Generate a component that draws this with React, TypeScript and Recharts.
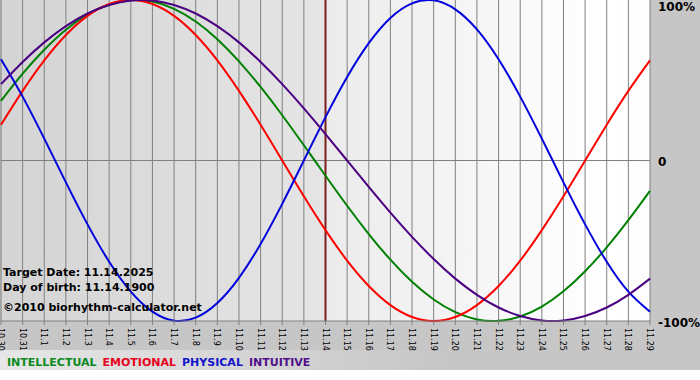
import React from "react";
import {
  LineChart,
  Line,
  XAxis,
  YAxis,
  CartesianGrid,
  ReferenceLine,
} from "recharts";

// day labels along the bottom
const days = [
  "10.30", "10.31", "11.1", "11.2", "11.3", "11.4", "11.5", "11.6", "11.7", "11.8",
  "11.9", "11.10", "11.11", "11.12", "11.13", "11.14", "11.15", "11.16", "11.17", "11.18",
  "11.19", "11.20", "11.21", "11.22", "11.23", "11.24", "11.25", "11.26", "11.27", "11.28",
  "11.29",
];

const physical = [
  0.631, 0.398, 0.136, -0.136, -0.398, -0.631, -0.817, -0.942, -0.998, -0.979,
  -0.888, -0.731, -0.52, -0.27, 0, 0.27, 0.52, 0.731, 0.888, 0.979,
  0.998, 0.942, 0.817, 0.631, 0.398, 0.136, -0.136, -0.398, -0.631, -0.817,
  -0.942,
];

const emotional = [
  0.223, 0.434, 0.624, 0.782, 0.901, 0.975, 1, 0.975, 0.901, 0.782,
  0.624, 0.434, 0.223, 0, -0.223, -0.434, -0.624, -0.782, -0.901, -0.975,
  -1, -0.975, -0.901, -0.782, -0.624, -0.434, -0.223, 0, 0.223, 0.434,
  0.624,
];

const intellectual = [
  0.372, 0.541, 0.69, 0.815, 0.91, 0.972, 0.999, 0.99, 0.945, 0.866,
  0.756, 0.618, 0.458, 0.282, 0.095, -0.095, -0.282, -0.458, -0.618, -0.756,
  -0.866, -0.945, -0.99, -0.999, -0.972, -0.91, -0.815, -0.69, -0.541, -0.372,
  -0.189,
];

const intuitive = [
  0.476, 0.614, 0.736, 0.837, 0.916, 0.969, 0.997, 0.997, 0.969, 0.916,
  0.837, 0.736, 0.614, 0.476, 0.325, 0.165, 0, -0.165, -0.325, -0.476,
  -0.614, -0.736, -0.837, -0.916, -0.969, -0.997, -0.997, -0.969, -0.916, -0.837,
  -0.736,
];

const yTicks = [1, 0, -1];
const yLabels = ["100%", "0", "-100%"];

const legend = [
  { name: "INTELLECTUAL", color: "#0a8a1e" },
  { name: "EMOTIONAL", color: "#e8001c" },
  { name: "PHYSICAL", color: "#1414cc" },
  { name: "INTUITIVE", color: "#50108a" },
];

const data = days.map((d, i) => ({
  t: i,
  label: d,
  physical: physical[i],
  emotional: emotional[i],
  intellectual: intellectual[i],
  intuitive: intuitive[i],
}));

const FONT = "'DejaVu Sans', Verdana, sans-serif";

const DayTick = ({ x, y, payload }: any) => (
  <text
    transform={`translate(${x - 3},${y + 1}) rotate(90)`}
    textAnchor="start"
    fontSize={8}
    fontFamily={FONT}
    fill="#000"
  >
    {days[payload.value]}
  </text>
);

const PctTick = ({ y, payload }: any) => {
  const idx = yTicks.indexOf(payload.value);
  const dy = payload.value === 1 ? 11 : 5.5;
  return (
    <text
      x={658}
      y={y + dy}
      fontSize={12}
      fontWeight="bold"
      fontFamily={FONT}
      fill="#000"
    >
      {yLabels[idx]}
    </text>
  );
};

export default function App() {
  return (
    <div
      style={{
        position: "absolute",
        left: 0,
        top: 0,
        width: 700,
        height: 380,
        background: "#fff",
      }}
    >
      <svg width={0} height={0} style={{ position: "absolute" }}>
        <defs>
          <linearGradient id="plotBg" x1="0" y1="0" x2="1" y2="0">
            <stop offset="0%" stopColor="#d4d4d4" />
            <stop offset="50%" stopColor="#e5e5e5" />
            <stop offset="50%" stopColor="#ebebeb" />
            <stop offset="93%" stopColor="#ffffff" />
            <stop offset="100%" stopColor="#fdfdfd" />
          </linearGradient>
        </defs>
      </svg>
      <div
        style={{
          position: "absolute",
          left: 0,
          top: 0,
          width: 700,
          height: 370,
          background: "#c6c6c6",
        }}
      />
      <div
        style={{
          position: "absolute",
          left: 0,
          top: 350,
          width: 700,
          height: 20,
          background: "linear-gradient(to right, #e6e6e6 0%, #c6c6c6 65%)",
        }}
      />
      <div style={{ position: "absolute", left: 0, top: 0 }}>
        <LineChart
          width={700}
          height={370}
          data={data}
          margin={{ top: 0, right: 0, bottom: 0, left: 1 }}
        >
          <CartesianGrid
            horizontal={false}
            stroke="#808080"
            strokeWidth={1}
            fill="url(#plotBg)"
            fillOpacity={1}
          />
          <XAxis
            dataKey="t"
            type="number"
            domain={[0, 30]}
            ticks={days.map((_, i) => i)}
            interval={0}
            height={49}
            tickSize={4}
            stroke="#808080"
            tick={<DayTick />}
          />
          <YAxis
            orientation="right"
            domain={[-1, 1]}
            ticks={yTicks}
            interval={0}
            width={50}
            axisLine={false}
            tickLine={false}
            tick={<PctTick />}
          />
          <ReferenceLine y={0} stroke="#808080" strokeWidth={1} />
          <ReferenceLine x={15} stroke="#7a1e1e" strokeWidth={2} />
          <Line
            type="natural"
            dataKey="intellectual"
            stroke="#008000"
            strokeWidth={2}
            dot={false}
            isAnimationActive={false}
          />
          <Line
            type="natural"
            dataKey="emotional"
            stroke="#ff0000"
            strokeWidth={2}
            dot={false}
            isAnimationActive={false}
          />
          <Line
            type="natural"
            dataKey="physical"
            stroke="#0000dd"
            strokeWidth={2}
            dot={false}
            isAnimationActive={false}
          />
          <Line
            type="natural"
            dataKey="intuitive"
            stroke="#4b0082"
            strokeWidth={2}
            dot={false}
            isAnimationActive={false}
          />
        </LineChart>
      </div>
      <svg
        width={700}
        height={380}
        style={{ position: "absolute", left: 0, top: 0, pointerEvents: "none" }}
        fontFamily={FONT}
        fontWeight="bold"
        fontSize={11}
      >
        <text x={3} y={276} fill="#000">Target Date: 11.14.2025</text>
        <text x={3} y={291} fill="#000">Day of birth: 11.14.1900</text>
        <text x={3} y={311} fill="#000">©2010 biorhythm-calculator.net</text>
        <text x={7} y={366}>
          {legend.map((l, i) => (
            <tspan key={l.name} fill={l.color} dx={i === 0 ? 0 : 6}>
              {l.name}
            </tspan>
          ))}
        </text>
      </svg>
    </div>
  );
}
